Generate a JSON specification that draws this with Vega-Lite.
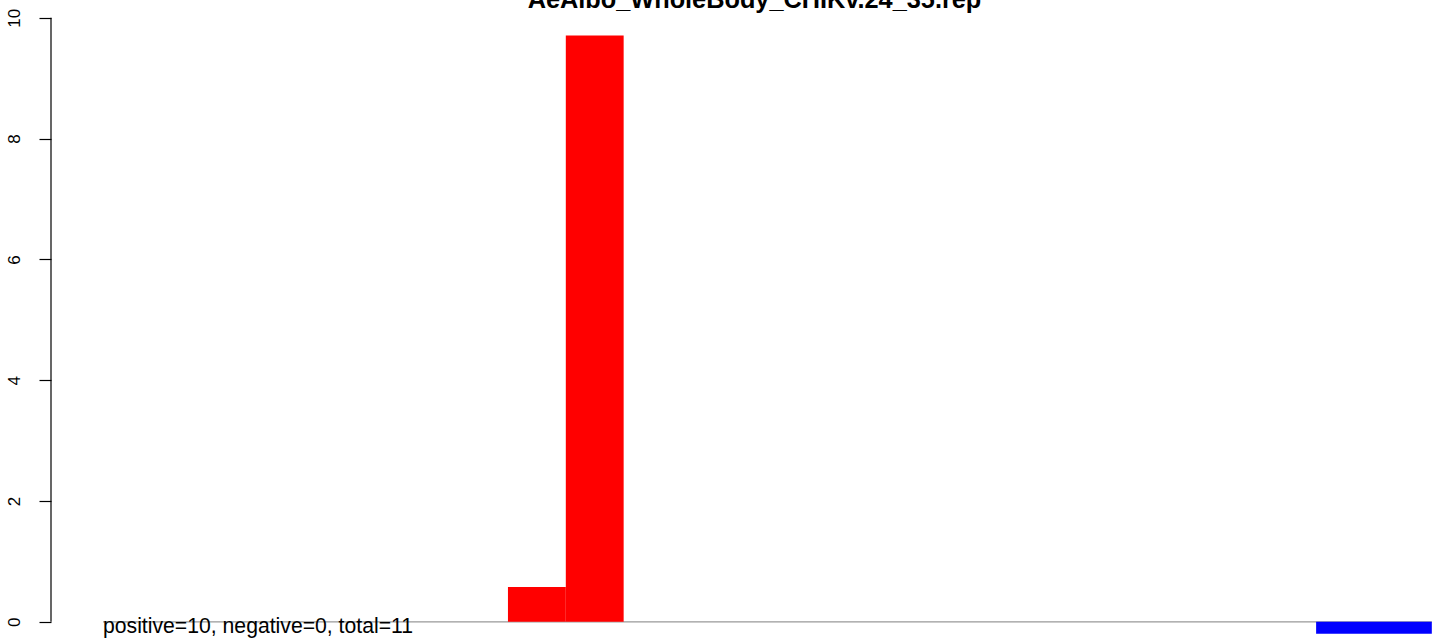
{
  "$schema": "https://vega.github.io/schema/vega-lite/v6.json",
  "autosize": "none",
  "width": 1398,
  "height": 639,
  "padding": {"left": 51, "top": 0, "right": 0, "bottom": 0},
  "background": "white",
  "config": {"view": {"stroke": null}, "font": "Liberation Sans"},
  "title": {
    "text": "AeAlbo_WholeBody_CHIKv.24_35.rep",
    "font": "Liberation Sans",
    "fontSize": 25.3,
    "fontWeight": "bold",
    "color": "black",
    "anchor": "middle",
    "baseline": "alphabetic",
    "offset": -33,
    "dx": 4.5
  },
  "datasets": {
    "bars": [
      {"start": 7, "end": 8, "base": 0, "value": 0.575, "sign": "positive"},
      {"start": 8, "end": 9, "base": 0, "value": 9.707, "sign": "positive"},
      {"start": 20.97, "end": 22.97, "base": 0, "value": -0.2, "sign": "negative"}
    ],
    "one": [{"label": "positive=10, negative=0, total=11"}]
  },
  "layer": [
    {
      "data": {"name": "one"},
      "mark": {"type": "rule", "color": "#999999", "strokeWidth": 1.3},
      "encoding": {
        "x": {"datum": 0, "type": "quantitative", "scale": {"domain": [-0.899, 23.267], "nice": false, "zero": false}, "axis": null},
        "x2": {"datum": 22.97},
        "y": {
          "datum": 0,
          "type": "quantitative",
          "scale": {"domain": [-0.285, 10.295], "nice": false, "zero": false},
          "axis": {
            "values": [0, 2, 4, 6, 8, 10],
            "format": "d",
            "domain": false,
            "grid": false,
            "ticks": true,
            "title": null,
            "tickSize": 12,
            "tickColor": "#000000",
            "tickWidth": 1.2,
            "tickOpacity": 1,
            "labelAngle": -90,
            "labelAlign": "center",
            "labelBaseline": "alphabetic",
            "labelPadding": 20,
            "labelFontSize": 17,
            "labelFont": "Liberation Sans",
            "labelColor": "black",
            "labelFlush": false,
            "labelOverlap": false
          }
        }
      }
    },
    {
      "data": {"name": "bars"},
      "mark": {"type": "rect"},
      "encoding": {
        "x": {"field": "start", "type": "quantitative"},
        "x2": {"field": "end"},
        "y": {"field": "base", "type": "quantitative"},
        "y2": {"field": "value"},
        "color": {"field": "sign", "type": "nominal", "scale": {"domain": ["positive", "negative"], "range": ["#FF0000", "#0000FF"]}, "legend": null}
      }
    },
    {
      "data": {"name": "one"},
      "mark": {"type": "rule", "color": "black", "strokeWidth": 1.2},
      "encoding": {
        "x": {"datum": -0.899, "type": "quantitative"},
        "y": {"datum": 0, "type": "quantitative"},
        "y2": {"datum": 10}
      }
    },
    {
      "data": {"name": "one"},
      "mark": {"type": "text", "align": "left", "baseline": "alphabetic", "dy": 11.3, "fontSize": 21.2, "font": "Liberation Sans", "color": "black"},
      "encoding": {
        "x": {"datum": 0, "type": "quantitative"},
        "y": {"datum": 0, "type": "quantitative"},
        "text": {"field": "label", "type": "nominal"}
      }
    }
  ]
}
